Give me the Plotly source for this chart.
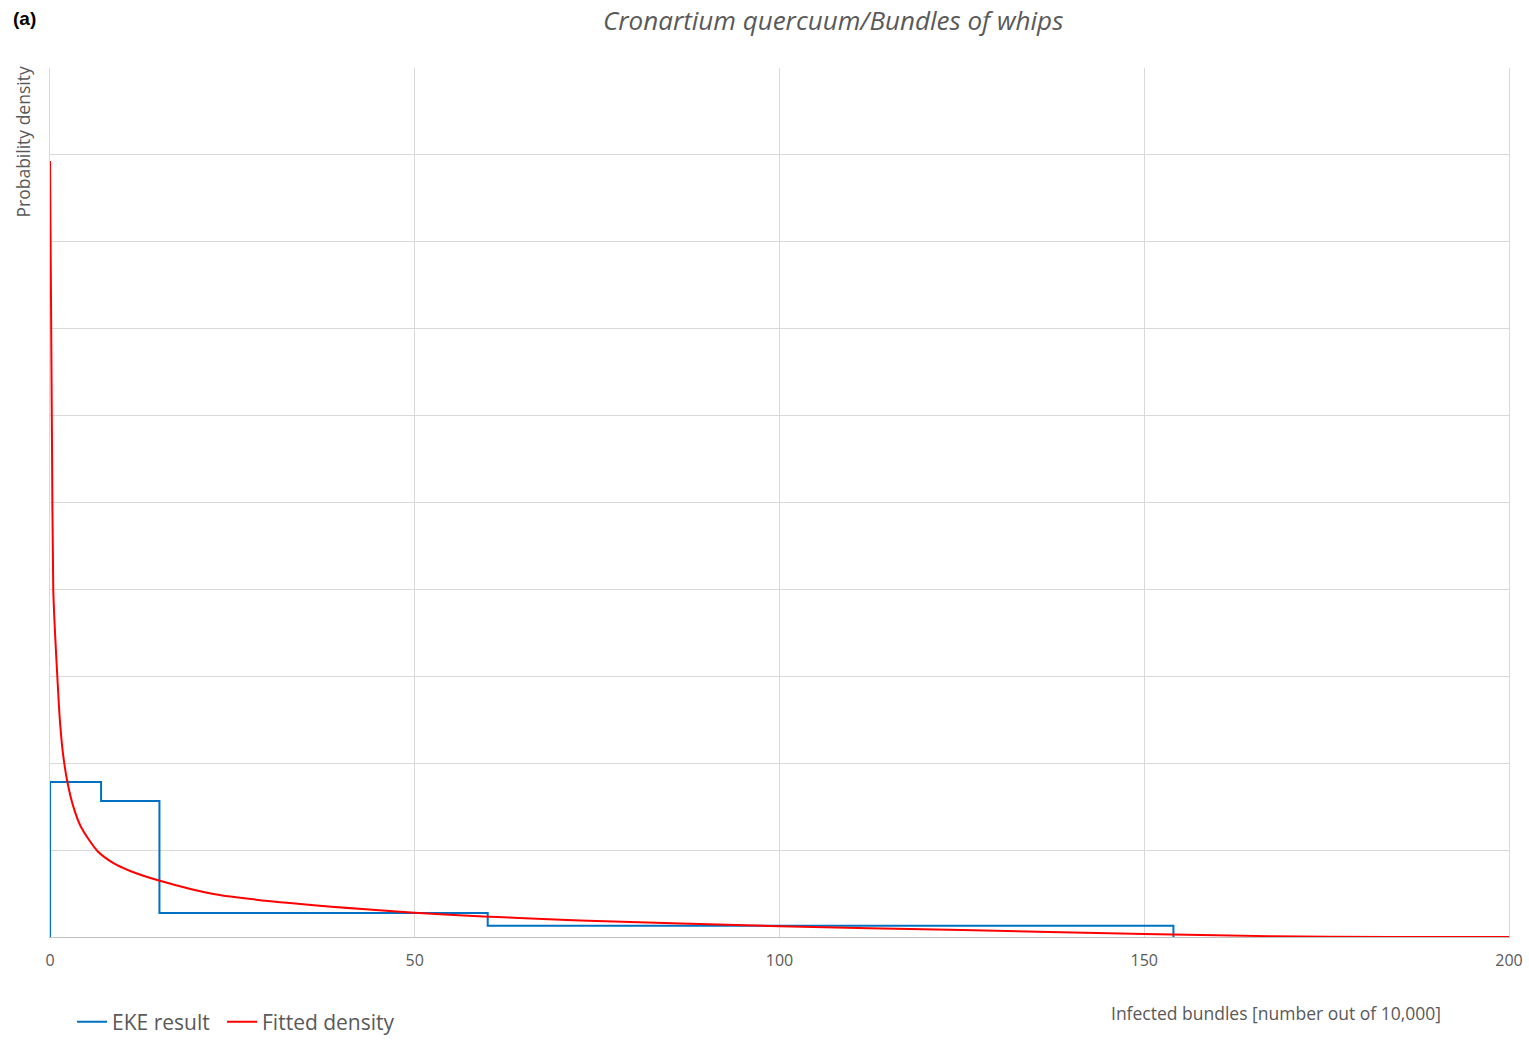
import plotly.graph_objects as go

# Expert knowledge elicitation (EKE) result: piecewise-constant density over quartile intervals
eke_edges = [0, 7, 15, 60, 154]
eke_density = [0.0357, 0.0313, 0.0055, 0.0026]

# Fitted density curve (sampled points)
fit_x = [0, 0.14, 0.27, 0.45, 0.69, 1.0, 1.37, 1.83, 2.42, 3.2, 4.2, 6.5, 8.7, 11.0,
         14.94, 22.4, 32.9, 50.0, 72.65, 100, 125, 150, 167, 183.7, 200]
fit_y = [0.1786, 0.1466, 0.1144, 0.0798, 0.0700, 0.0600, 0.0495, 0.0415, 0.0354, 0.0300,
         0.0255, 0.0198, 0.0170, 0.0152, 0.0130, 0.0099, 0.0078, 0.0056, 0.0038, 0.0025,
         0.0016, 0.0007, 0.0002, 0.0, 0.0]

x_ticks = [0, 50, 100, 150, 200]

grey_text = "#595959"
font_family = "Open Sans, Noto Sans, sans-serif"

# Build the step outline: up from zero at the first edge, across each interval, down at the end
step_x = [eke_edges[0]] + eke_edges[:-1] + [eke_edges[-1]]
step_y = [0] + eke_density + [0]

fig = go.Figure()
fig.add_trace(go.Scatter(
    x=step_x, y=step_y, mode="lines", line_shape="hv",
    line=dict(color="#0070C0", width=2), name="EKE result", legend="legend"))
fig.add_trace(go.Scatter(
    x=fit_x, y=fit_y, mode="lines", line_shape="spline", line_smoothing=0.8,
    line=dict(color="#FF0000", width=2), name="Fitted density", legend="legend2"))

legend_style = dict(orientation="h", xanchor="left", y=-0.098, yanchor="middle",
                    font=dict(size=21, color=grey_text), itemwidth=30,
                    bgcolor="rgba(0,0,0,0)")

fig.update_layout(
    width=1529, height=1040,
    margin=dict(l=50, r=20, t=68, b=103, autoexpand=False),
    paper_bgcolor="white", plot_bgcolor="white",
    font=dict(family=font_family, color=grey_text),
    showlegend=True,
    legend=dict(x=0.0151, **legend_style),
    legend2=dict(x=0.1179, **legend_style),
    xaxis=dict(range=[0, 200], tickvals=x_ticks, ticktext=[str(t) for t in x_ticks],
               showgrid=True, gridcolor="#d9d9d9", gridwidth=1, zeroline=False,
               showline=True, linecolor="#bfbfbf", linewidth=1, ticks="",
               ticklabelstandoff=9, automargin=False,
               tickfont=dict(size=16, color=grey_text)),
    yaxis=dict(range=[0, 0.2], dtick=0.02, showticklabels=False, automargin=False,
               showgrid=True, gridcolor="#d9d9d9", gridwidth=1, zeroline=False,
               showline=True, linecolor="#d9d9d9", linewidth=1, mirror=True, ticks=""),
    annotations=[
        dict(text="<i>Cronartium quercuum/Bundles of whips</i>", xref="paper", yref="paper",
             x=0.537, y=1.0, yshift=48, xanchor="center", yanchor="middle", showarrow=False,
             font=dict(size=26, color=grey_text, family=font_family)),
        dict(text="<b>(a)</b>", xref="paper", yref="paper", x=0, xshift=-39, y=1.0, yshift=50,
             xanchor="left", yanchor="middle", showarrow=False,
             font=dict(size=19, color="#000000", family="Liberation Sans, Arial, sans-serif")),
        dict(text="Probability density", xref="paper", yref="paper", x=0, xshift=-28,
             y=1.0, yshift=3, xanchor="center", yanchor="top", textangle=-90, showarrow=False,
             font=dict(size=17.5, color=grey_text, family=font_family)),
        dict(text="Infected bundles [number out of 10,000]", xref="paper", yref="paper",
             x=0.84, y=0, yshift=-76, xanchor="center", yanchor="middle", showarrow=False,
             font=dict(size=17.5, color=grey_text, family=font_family)),
    ],
)

fig.write_html("out.html")
